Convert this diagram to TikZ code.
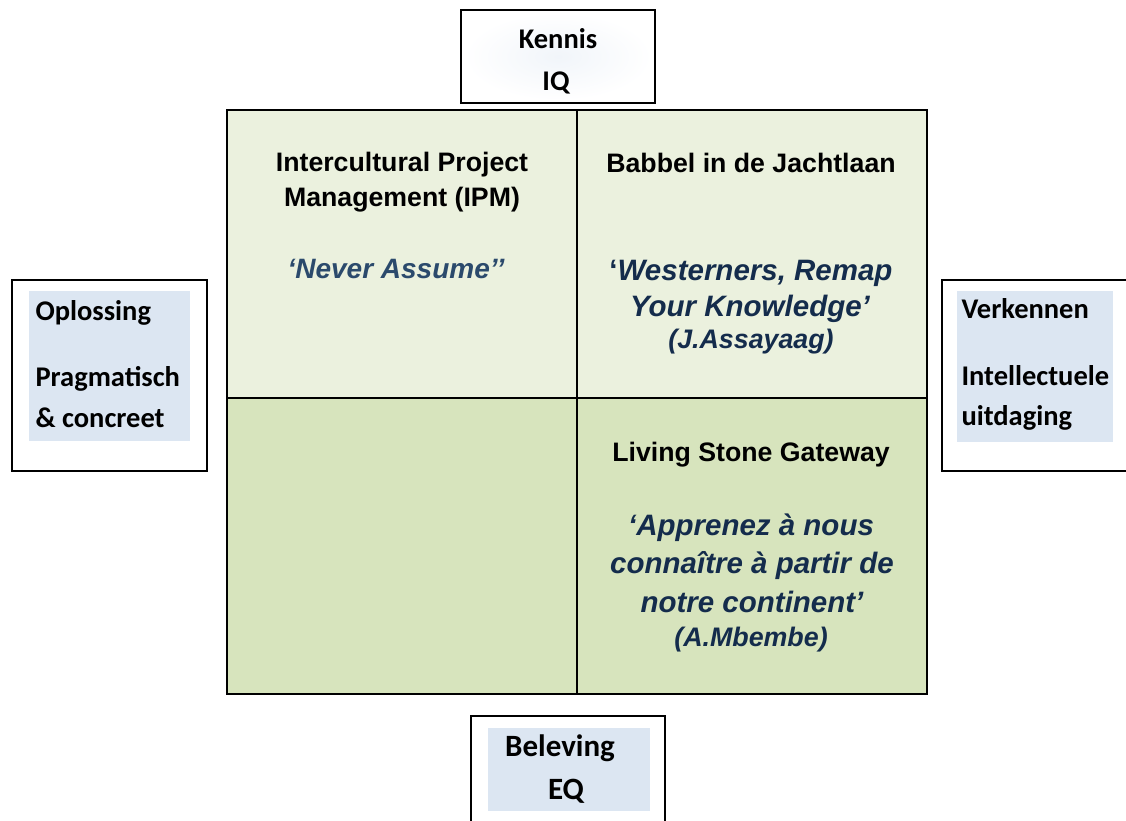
\documentclass[tikz,border=0pt]{standalone}
\usepackage{fontspec}
\setmainfont{Liberation Sans}
\newfontfamily\calibrifont{Carlito}

\definecolor{topcell}{HTML}{EBF1DE}
\definecolor{lowcell}{HTML}{D7E4BD}
\definecolor{tagblue}{HTML}{DCE6F2}
\definecolor{quotenavy}{HTML}{142C4C}
\definecolor{quoteslate}{HTML}{2B4A6C}

\begin{document}
\begin{tikzpicture}[x=1pt,y=-1pt,node distance=350pt,
    cell/.style={rectangle,draw,line width=2pt,outer sep=0pt,inner sep=0pt,minimum width=350pt},
    frame/.style={rectangle,draw,line width=2pt,fill=white,outer sep=0pt,inner sep=0pt},
    tag/.style={rectangle,fill=tagblue,inner sep=0pt},
    head/.style={font=\fontsize{26.7}{30}\selectfont\bfseries,anchor=base},
    quote/.style={font=\fontsize{29.5}{32}\selectfont\bfseries\itshape,text=quotenavy,anchor=base},
    source/.style={font=\fontsize{26.8}{30}\selectfont\bfseries\itshape,text=quotenavy,anchor=base},
    side/.style={font=\calibrifont\fontsize{28.5}{32}\selectfont\bfseries,anchor=base west},
    axis/.style={font=\calibrifont\fontsize{28.5}{32}\selectfont\bfseries,anchor=base}]

  \useasboundingbox (0,0) rectangle (1126,820);
  \clip (0,0) rectangle (1126,820);

  % the four quadrants
  \node[cell,fill=topcell,minimum height=288pt] (ipm) at (402,254) {};
  \node[cell,fill=topcell,minimum height=288pt] (babbel) [right of=ipm] {};
  \node[cell,fill=lowcell,minimum height=296pt] (empty) [below of=ipm,node distance=292pt] {};
  \node[cell,fill=lowcell,minimum height=296pt] (gateway) [right of=empty] {};

  % axis boxes
  \node[frame,minimum width=194pt,minimum height=93pt] (iq) at (558,56.5) {};
  \node[frame,minimum width=195pt,minimum height=191pt] (solve) at (109.5,375.5) {};
  \node[frame,minimum width=200pt,minimum height=191pt] (explore) at (1042,375.5) {};
  \node[frame,minimum width=194pt,minimum height=120pt] (eq) at (568,776) {};

  \node[rectangle,inner sep=0pt,minimum width=188pt,minimum height=88pt,
        inner color=tagblue!40,outer color=white] (iqtag) at (iq) {};
  \node[tag,minimum width=161pt,minimum height=150pt] (solvetag) at (109.5,366) {};
  \node[tag,minimum width=156pt,minimum height=151pt] (exploretag) at (1035,366.5) {};
  \node[tag,minimum width=162pt,minimum height=83pt] (eqtag) at (569,769.5) {};

  \node[axis] (kennis) at (558,48) {Kennis};
  \node[axis] (iqtext) at (556,90) {IQ};
  \node[side] (oplossing) at (32,320) {Oplossing};
  \node[side] (pragmatisch) at (32,386) {Pragmatisch};
  \node[side] (concreet) at (32,427) {\& concreet};
  \node[side] (verkennen) at (958,318) {Verkennen};
  \node[side] (intellectueel) at (958,385) {Intellectuele};
  \node[side] (uitdaging) at (958,425) {uitdaging};
  \node[axis,font=\calibrifont\fontsize{31}{34}\selectfont\bfseries] (beleving) at (560,756) {Beleving};
  \node[axis,font=\calibrifont\fontsize{31}{34}\selectfont\bfseries] (eqtext) at (566,799) {EQ};

  % quadrant texts
  \node[head] (ipm1) at (402,171) {Intercultural Project};
  \node[head] (ipm2) at (402,206) {Management (IPM)};
  \node[quote,text=quoteslate,font=\fontsize{28}{30}\selectfont\bfseries\itshape] (ipmq) at (396,278) {‘Never Assume’’};

  \node[head] (bab1) at (751,172) {Babbel in de Jachtlaan};
  \node[quote] (babq1) at (751,280) {{\upshape‘}Westerners, Remap};
  \node[quote] (babq2) at (750,316) {Your Knowledge’};
  \node[source] (babs) at (751,348) {(J.Assayaag)};

  \node[head] (gate1) at (751,461) {Living Stone Gateway};
  \node[quote] (gateq1) at (751,535) {‘Apprenez à nous};
  \node[quote] (gateq2) at (752,573) {connaître à partir de};
  \node[quote] (gateq3) at (752,612) {notre continent’};
  \node[source] (gates) at (751,646) {(A.Mbembe)};
\end{tikzpicture}
\end{document}
